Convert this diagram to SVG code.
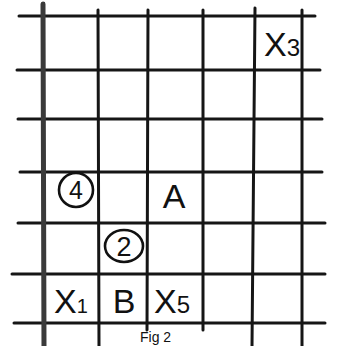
<svg xmlns="http://www.w3.org/2000/svg" width="345" height="346" viewBox="0 0 345 346">
<style>
.g{stroke:#161616;stroke-width:3;stroke-linecap:round;fill:none}
.t{font-family:"Liberation Sans","DejaVu Sans",sans-serif;fill:#111}
.c{stroke:#111;stroke-width:2.6;fill:none}
</style>
<rect width="345" height="346" fill="#fff"/>
<g id="grid">
<g id="horizontal">
<line class="g" x1="19" y1="16" x2="315" y2="16"/>
<line class="g" x1="17" y1="70" x2="320" y2="70"/>
<line class="g" x1="18" y1="119" x2="322" y2="119"/>
<line class="g" x1="20" y1="172" x2="322" y2="172"/>
<line class="g" x1="18" y1="223" x2="325" y2="223"/>
<line class="g" x1="12" y1="274" x2="325" y2="274"/>
<line class="g" x1="14" y1="323" x2="325" y2="323"/>
</g>
<g id="vertical">
<line class="g" x1="43" y1="4" x2="44" y2="346" style="stroke-width:5;stroke:#3a3a3a"/>
<line class="g" x1="98" y1="10" x2="99" y2="346"/>
<line class="g" x1="148" y1="10" x2="147" y2="330"/>
<line class="g" x1="203" y1="10" x2="203" y2="330"/>
<line class="g" x1="255" y1="8" x2="252" y2="346"/>
<line class="g" x1="302" y1="10" x2="302" y2="346"/>
</g>
</g>
<g id="X3"><text class="t" x="264" y="56" font-size="34">X<tspan font-size="24">3</tspan></text></g>
<g id="n4"><ellipse class="c" cx="76" cy="190" rx="17" ry="17"/><text class="t" x="76" y="199" font-size="25" text-anchor="middle">4</text></g>
<g id="A"><text class="t" x="174" y="208" font-size="34" text-anchor="middle">A</text></g>
<g id="n2"><ellipse class="c" cx="124" cy="246" rx="19" ry="16"/><text class="t" x="124" y="256" font-size="27" text-anchor="middle">2</text></g>
<g id="X1"><text class="t" x="54" y="313" font-size="34">X<tspan font-size="20">1</tspan></text></g>
<g id="B"><text class="t" x="124" y="313" font-size="34" text-anchor="middle">B</text></g>
<g id="X5"><text class="t" x="154" y="313" font-size="34">X<tspan font-size="24">5</tspan></text></g>
<g id="caption"><text class="t" x="140" y="342" font-size="14">Fig 2</text></g>
</svg>
